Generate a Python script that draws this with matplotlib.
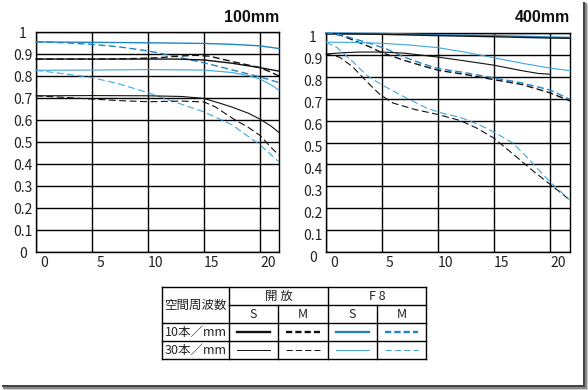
import matplotlib
matplotlib.use("Agg")
import matplotlib.pyplot as plt
from matplotlib.transforms import ScaledTranslation
from matplotlib.lines import Line2D
from matplotlib.patches import Rectangle

plt.rcParams['font.family'] = ['Noto Sans CJK JP', 'DejaVu Sans']
plt.rcParams['lines.scale_dashes'] = False

# ---------------- data: 100mm ----------------
t100_s10_f8_x = [0, 5, 10, 15, 17.5, 20, 21.7]
t100_s10_f8_y = [0.955, 0.953, 0.951, 0.948, 0.944, 0.937, 0.925]
t100_m10_f8_x = [0, 2.5, 5, 7.5, 10, 12.5, 15, 17.5, 20, 21.7]
t100_m10_f8_y = [0.955, 0.951, 0.944, 0.932, 0.914, 0.888, 0.86, 0.828, 0.796, 0.77]
t100_s10_op_x = [0, 5, 10, 12.5, 15, 17.5, 20, 21.7]
t100_s10_op_y = [0.877, 0.877, 0.877, 0.877, 0.873, 0.858, 0.838, 0.822]
t100_m10_op_x = [0, 5, 8.5, 11, 12.5, 14.3, 15.5, 17.5, 20, 21, 21.7]
t100_m10_op_y = [0.877, 0.877, 0.879, 0.883, 0.89, 0.894, 0.89, 0.866, 0.838, 0.817, 0.80]
t100_s30_f8_x = [0, 5, 10, 15, 17.5, 19, 20, 21, 21.7]
t100_s30_f8_y = [0.826, 0.827, 0.829, 0.827, 0.816, 0.802, 0.786, 0.76, 0.735]
t100_m30_f8_x = [0, 2.5, 5, 7.5, 10, 12.5, 15, 17.5, 20, 21.7]
t100_m30_f8_y = [0.826, 0.81, 0.793, 0.763, 0.724, 0.68, 0.637, 0.578, 0.487, 0.41]
t100_s30_op_x = [0, 5, 10, 13, 15, 16.5, 17.6, 19, 20, 21, 21.7]
t100_s30_op_y = [0.71, 0.711, 0.71, 0.707, 0.698, 0.675, 0.657, 0.63, 0.604, 0.572, 0.543]
t100_m30_op_x = [0, 2.5, 5, 7.5, 10, 13, 15, 16, 17.6, 19, 20, 21, 21.7]
t100_m30_op_y = [0.71, 0.703, 0.695, 0.688, 0.683, 0.686, 0.682, 0.66, 0.606, 0.565, 0.53, 0.475, 0.44]

# ---------------- data: 400mm ----------------
t400_s10_f8_x = [0, 5, 10, 15, 20, 21.8]
t400_s10_f8_y = [1.0, 0.998, 0.992, 0.988, 0.982, 0.98]
t400_s10_op_x = [0, 5, 10, 15, 20, 21.8]
t400_s10_op_y = [0.997, 0.994, 0.988, 0.983, 0.977, 0.976]
t400_m10_op_x = [0, 1.25, 2.4, 3.9, 5, 7, 8.5, 10, 12.5, 15, 17.5, 20, 21.8]
t400_m10_op_y = [0.998, 0.991, 0.968, 0.937, 0.91, 0.875, 0.852, 0.83, 0.81, 0.787, 0.765, 0.727, 0.69]
t400_m10_f8_x = [0, 1.25, 2.4, 3.9, 5.4, 7, 8.5, 10, 12.5, 15, 17.5, 20, 21.8]
t400_m10_f8_y = [1.0, 0.993, 0.975, 0.953, 0.927, 0.89, 0.862, 0.838, 0.818, 0.795, 0.772, 0.74, 0.697]
t400_s30_f8_x = [0, 2.5, 5, 7.5, 10, 12.5, 15, 17.5, 20, 21.8]
t400_s30_f8_y = [0.958, 0.957, 0.953, 0.945, 0.933, 0.912, 0.887, 0.862, 0.84, 0.828]
t400_s30_op_x = [0, 1.5, 3, 5, 7, 10, 12.5, 15, 17.5, 19, 20]
t400_s30_op_y = [0.904, 0.91, 0.913, 0.913, 0.908, 0.89, 0.872, 0.853, 0.828, 0.815, 0.812]
t400_m30_op_x = [0, 1.2, 2.4, 3.6, 4.8, 6, 8, 10, 12, 13.5, 15, 17, 18.5, 20, 21.8]
t400_m30_op_y = [0.904, 0.89, 0.845, 0.78, 0.72, 0.68, 0.65, 0.628, 0.6, 0.565, 0.52, 0.435, 0.37, 0.31, 0.237]
t400_m30_f8_x = [0, 1, 2.4, 3.6, 5, 7, 9, 10.5, 12, 13.5, 15, 16.7, 18.2, 20, 21.8]
t400_m30_f8_y = [0.958, 0.933, 0.869, 0.808, 0.763, 0.708, 0.657, 0.632, 0.615, 0.585, 0.548, 0.497, 0.42, 0.32, 0.237]

x_ticks = [0, 5, 10, 15, 20]
y_ticks = [0, 0.1, 0.2, 0.3, 0.4, 0.5, 0.6, 0.7, 0.8, 0.9, 1.0]
y_labels = ['0', '0.1', '0.2', '0.3', '0.4', '0.5', '0.6', '0.7', '0.8', '0.9', '1']
titles = ['100mm', '400mm']

legend_cols = ['開 放', 'F 8']
legend_sub = ['S', 'M', 'S', 'M']
legend_rows = ['10本／mm', '30本／mm']
legend_head = '空間周波数'

BLACK = '#111111'
BLUE10 = '#1f86c6'
BLUE30 = '#3ea6de'
DASH = (0, (5, 2.5))

W, H = 588, 390
fig = plt.figure(figsize=(W / 100, H / 100), dpi=100)


def fx(x):
    return x / W


def fy(y):
    return 1 - y / H


def make_axes(left, top, right, bottom, xmax, ylab_dy):
    ax = fig.add_axes([fx(left), fy(bottom), fx(right - left), (bottom - top) / H])
    ax.set_xlim(0, xmax)
    ax.set_ylim(0, 1)
    ax.set_xticks(x_ticks)
    ax.set_yticks(y_ticks)
    ax.set_yticklabels(y_labels)
    ax.grid(True, color='black', lw=1.0)
    ax.set_axisbelow(True)
    for s in ax.spines.values():
        s.set_color('black')
        s.set_linewidth(1.0)
    ax.tick_params(axis='both', length=0, labelsize=10, colors='#222222')
    ax.tick_params(axis='y', pad=9.5)
    ax.tick_params(axis='x', pad=3)
    for lbl in ax.get_yticklabels():
        lbl.set_ha('center')
        lbl.set_transform(lbl.get_transform() + ScaledTranslation(0, -ylab_dy / 100, fig.dpi_scale_trans))
    for lbl in ax.get_xticklabels():
        lbl.set_transform(lbl.get_transform() + ScaledTranslation(8 / 100, 0, fig.dpi_scale_trans))
    return ax


ax1 = make_axes(36, 32, 279, 252, 21.7, 0)
ax2 = make_axes(326, 33, 570, 252, 21.8, 4)

def draw(ax, x, y, color, lw, dashed):
    ax.plot(x, y, color=color, lw=lw, linestyle=DASH if dashed else '-', zorder=3, clip_on=False)

# 100mm
draw(ax1, t100_s10_f8_x, t100_s10_f8_y, BLUE10, 1.0, False)
draw(ax1, t100_m10_f8_x, t100_m10_f8_y, BLUE10, 1.0, True)
draw(ax1, t100_s10_op_x, t100_s10_op_y, BLACK, 1.0, False)
draw(ax1, t100_m10_op_x, t100_m10_op_y, BLACK, 1.0, True)
draw(ax1, t100_s30_f8_x, t100_s30_f8_y, BLUE30, 0.8, False)
draw(ax1, t100_m30_f8_x, t100_m30_f8_y, BLUE30, 0.8, True)
draw(ax1, t100_s30_op_x, t100_s30_op_y, BLACK, 0.8, False)
draw(ax1, t100_m30_op_x, t100_m30_op_y, BLACK, 0.8, True)
# 400mm
draw(ax2, t400_s10_f8_x, t400_s10_f8_y, BLUE10, 1.0, False)
draw(ax2, t400_s10_op_x, t400_s10_op_y, BLACK, 1.0, False)
draw(ax2, t400_m10_op_x, t400_m10_op_y, BLACK, 1.0, True)
draw(ax2, t400_m10_f8_x, t400_m10_f8_y, BLUE10, 1.0, True)
draw(ax2, t400_s30_f8_x, t400_s30_f8_y, BLUE30, 0.8, False)
draw(ax2, t400_s30_op_x, t400_s30_op_y, BLACK, 0.8, False)
draw(ax2, t400_m30_op_x, t400_m30_op_y, BLACK, 0.8, True)
draw(ax2, t400_m30_f8_x, t400_m30_f8_y, BLUE30, 0.8, True)

fig.text(fx(279), fy(18), titles[0], ha='right', va='center', fontsize=11.5,
         fontweight='bold', family=['Liberation Sans', 'DejaVu Sans'], color='#111111')
fig.text(fx(570), fy(18), titles[1], ha='right', va='center', fontsize=11.5,
         fontweight='bold', family=['Liberation Sans', 'DejaVu Sans'], color='#111111')

# ---------------- legend table ----------------
def fline(x0, y0, x1, y1, **kw):
    fig.add_artist(Line2D([fx(x0), fx(x1)], [fy(y0), fy(y1)], transform=fig.transFigure, **kw))

L, R, T, B = 162, 426, 287, 359
c1, c2, c3, c4 = 229, 278, 328, 377
r1, r2, r3 = 305, 323, 341
bk = dict(color='black', lw=1.0)
fline(L, T, R, T, **bk)
fline(L, B, R, B, **bk)
fline(L, T, L, B, **bk)
fline(R, T, R, B, **bk)
fline(c1, T, c1, B, **bk)
fline(c3, T, c3, B, **bk)
fline(c2, r1, c2, B, **bk)
fline(c4, r1, c4, B, **bk)
fline(c1, r1, R, r1, **bk)
fline(L, r2, R, r2, **bk)
fline(L, r3, R, r3, **bk)

tk = dict(ha='center', va='center', fontsize=9, color='#222222')
fig.text(fx((L + c1) / 2), fy(r1), legend_head, **tk)
fig.text(fx((c1 + c3) / 2), fy((T + r1) / 2), legend_cols[0], **tk)
fig.text(fx((c3 + R) / 2), fy((T + r1) / 2), legend_cols[1], **tk)
for (a, b), s in zip([(c1, c2), (c2, c3), (c3, c4), (c4, R)], legend_sub):
    fig.text(fx((a + b) / 2), fy((r1 + r2) / 2), s, **tk)
fig.text(fx((L + c1) / 2), fy((r2 + r3) / 2), legend_rows[0], **tk)
fig.text(fx((L + c1) / 2), fy((r3 + B) / 2), legend_rows[1], **tk)

cells = [(c1, c2, BLACK, False), (c2, c3, BLACK, True), (c3, c4, BLUE10, False), (c4, R, BLUE10, True)]
for i, (row_y, lw) in enumerate([((r2 + r3) / 2, 1.7), ((r3 + B) / 2, 0.7)]):
    for a, b, col, dashed in cells:
        if i == 1 and col == BLUE10:
            col = BLUE30
        fline(a + 8, row_y, b - 8, row_y, color=col, lw=lw,
              linestyle=(0, (4.5, 2.2)) if dashed else '-')

# ---------------- frame shadow ----------------
def frect(x0, y0, x1, y1, color):
    fig.add_artist(Rectangle((fx(x0), fy(y1)), fx(x1 - x0), (y1 - y0) / H,
                             transform=fig.transFigure, color=color, lw=0))

frect(586.5, 4, 588, 390, '#d0d0d0')
frect(4, 388.5, 588, 390, '#d0d0d0')
frect(585, 3, 586.5, 388.5, '#8a8a8a')
frect(3, 387, 586.5, 388.5, '#8a8a8a')
frect(583, 2, 585, 387, '#454545')
frect(2, 385, 585, 387, '#454545')

fig.savefig('out.png', dpi=100)
